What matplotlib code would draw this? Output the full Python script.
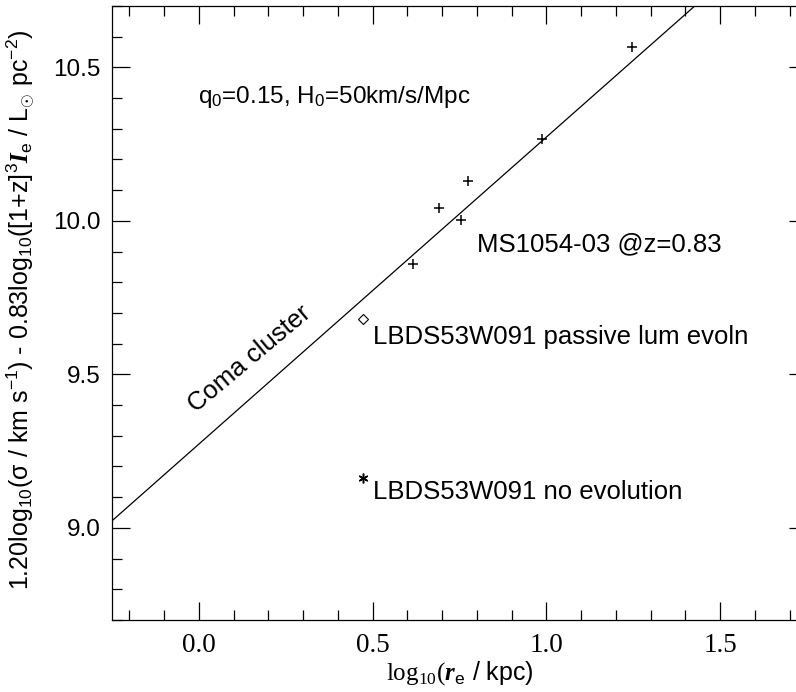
import matplotlib
matplotlib.use("Agg")
import matplotlib.pyplot as plt
import numpy as np
from matplotlib.ticker import MultipleLocator

plt.rcParams['font.family'] = ['Liberation Sans', 'DejaVu Sans']
plt.rcParams['mathtext.fontset'] = 'custom'
plt.rcParams['mathtext.rm'] = 'Liberation Sans'
plt.rcParams['mathtext.it'] = 'Liberation Sans:italic'
plt.rcParams['mathtext.bf'] = 'Liberation Serif:bold:italic'
plt.rcParams['mathtext.cal'] = 'Liberation Serif'
plt.rcParams['mathtext.sf'] = 'Liberation Sans'

# MS1054-03 galaxies (plus markers)
ms_x = [0.616, 0.691, 0.754, 0.774, 0.987, 1.246]
ms_y = [9.858, 10.043, 10.004, 10.131, 10.268, 10.565]
# LBDS53W091
lbds_x = [0.472, 0.472]
lbds_y = [9.681, 9.163]   # passive lum evoln, no evolution
# Coma cluster relation
coma_intercept = 9.273
coma_slope = 1.0

xlim = (-0.25, 1.75)
ylim = (8.7, 10.7)

fig = plt.figure(figsize=(7.96, 6.92), dpi=100)
left = 112 / 796
width = (807 - 112) / 796
bottom = 72 / 692
height = 614 / 692
ax = fig.add_axes([left, bottom, width, height])
ax.set_xlim(*xlim)
ax.set_ylim(*ylim)

lx = np.array(xlim)
ax.plot(lx, coma_intercept + coma_slope * lx, color='black', lw=0.9)
ax.plot(ms_x, ms_y, linestyle='none', marker='+', color='black', ms=7, mew=1.1)
ax.plot(lbds_x[0], lbds_y[0], linestyle='none', marker='D', ms=4.8, mfc='white', mec='black', mew=0.8)
ax.plot(lbds_x[1], lbds_y[1], linestyle='none', marker=(6, 2, 0), ms=7, color='black', mew=1.1)

ax.text(lbds_x[0] + 0.028, lbds_y[0] - 0.058, 'LBDS53W091 passive lum evoln', fontsize=18.5, va='center', ha='left')
ax.text(lbds_x[1] + 0.028, lbds_y[1] - 0.045, 'LBDS53W091 no evolution', fontsize=18.5, va='center', ha='left')
ax.text(0.80, 9.925, 'MS1054-03 @z=0.83', fontsize=18.5, va='center', ha='left')
ax.text(-0.003, 10.405, r'q$_0$=0.15, H$_0$=50km/s/Mpc', fontsize=17.5, va='center', ha='left')
ax.text(0.145, 9.55, 'Coma cluster', fontsize=18.5, va='center', ha='center', rotation=40, rotation_mode='anchor')

ax.xaxis.set_major_locator(MultipleLocator(0.5))
ax.xaxis.set_minor_locator(MultipleLocator(0.1))
ax.yaxis.set_major_locator(MultipleLocator(0.5))
ax.yaxis.set_minor_locator(MultipleLocator(0.1))
ax.tick_params(which='both', direction='in', top=True, right=True, width=0.9)
ax.tick_params(which='major', length=13)
ax.tick_params(which='minor', length=7)
ax.tick_params(axis='y', labelsize=17.5, pad=8)
ax.tick_params(axis='x', pad=9)
ax.set_xticks([0.0, 0.5, 1.0, 1.5])
ax.set_xticklabels(['0.0', '0.5', '1.0', '1.5'], fontfamily='Liberation Serif', fontsize=19.5)
ax.set_yticks([9.0, 9.5, 10.0, 10.5])
ax.set_yticklabels(['9.0', '9.5', '10.0', '10.5'])
for s in ax.spines.values():
    s.set_linewidth(0.9)

ax.set_xlabel(r'$\mathcal{log}_{\mathcal{10}}\mathcal{(}\mathbf{r}_{\mathrm{e}}$ / kpc)', fontsize=18, labelpad=1)
ax.set_ylabel(r'1.20log$_{10}$(σ / km s$^{-1}$) - 0.83log$_{10}$([1+z]$^{3}$$\mathbf{I}_{\mathrm{e}}$ / L$_{\odot}$ pc$^{-2}$)', fontsize=18.0)
ax.yaxis.set_label_coords(-0.108, 0.505)

fig.savefig('out.png', dpi=100)
